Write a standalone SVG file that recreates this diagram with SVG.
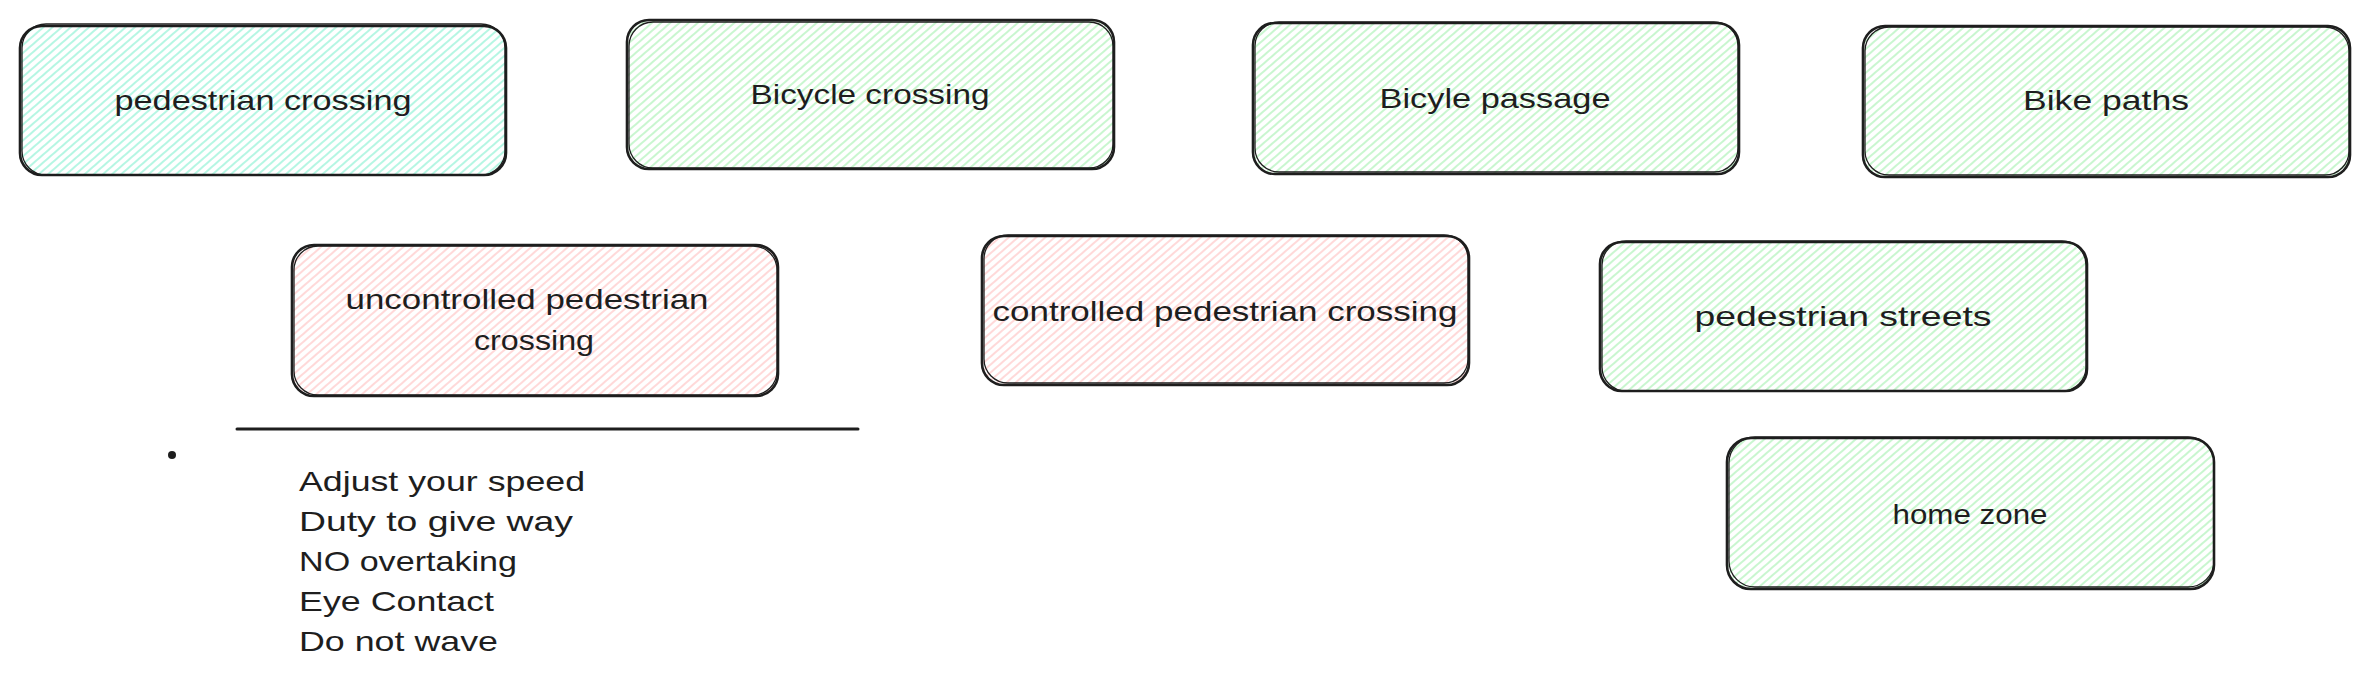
<svg xmlns="http://www.w3.org/2000/svg" width="2369" height="683" viewBox="0 0 2369 683">
<defs>
<pattern id="hTeal" patternUnits="userSpaceOnUse" width="6" height="6" patternTransform="rotate(49)"><line x1="1" y1="0" x2="1" y2="6" stroke="#96f2d7" stroke-width="1.4"/></pattern>
<pattern id="hGreen" patternUnits="userSpaceOnUse" width="6" height="6" patternTransform="rotate(49)"><line x1="1" y1="0" x2="1" y2="6" stroke="#b2f2bb" stroke-width="1.4"/></pattern>
<pattern id="hRed" patternUnits="userSpaceOnUse" width="6" height="6" patternTransform="rotate(49)"><line x1="1" y1="0" x2="1" y2="6" stroke="#ffc9c9" stroke-width="1.4"/></pattern>
</defs>
<style>
.box{stroke:#1e1e1e;stroke-width:2.6;}
.box2{fill:none;stroke:#1e1e1e;stroke-width:1.3;}
.t{font-family:"Liberation Sans","DejaVu Sans",sans-serif;font-size:28px;fill:#1e1e1e;text-anchor:middle;dominant-baseline:central;}
.l{font-family:"Liberation Sans","DejaVu Sans",sans-serif;font-size:28px;fill:#1e1e1e;dominant-baseline:central;}
</style>
<rect width="2369" height="683" fill="#ffffff"/>
<g id="pedestrian-crossing">
<rect class="box" x="20" y="26" width="486" height="149" rx="22" fill="url(#hTeal)"/>
<rect class="box2" x="22" y="24" width="483" height="151" rx="24"/>
<text class="t" x="263" y="100" textLength="297" lengthAdjust="spacingAndGlyphs">pedestrian crossing</text>
</g>
<g id="bicycle-crossing">
<rect class="box" x="627" y="20" width="487" height="149" rx="22" fill="url(#hGreen)"/>
<rect class="box2" x="629" y="22" width="484" height="146" rx="24"/>
<text class="t" x="870" y="94" textLength="239" lengthAdjust="spacingAndGlyphs">Bicycle crossing</text>
</g>
<g id="bicyle-passage">
<rect class="box" x="1253" y="23" width="486" height="151" rx="22" fill="url(#hGreen)"/>
<rect class="box2" x="1255" y="22" width="483" height="150" rx="24"/>
<text class="t" x="1495" y="98" textLength="231" lengthAdjust="spacingAndGlyphs">Bicyle passage</text>
</g>
<g id="bike-paths">
<rect class="box" x="1863" y="26" width="487" height="151" rx="22" fill="url(#hGreen)"/>
<rect class="box2" x="1865" y="27" width="484" height="148" rx="24"/>
<text class="t" x="2106" y="100" textLength="166" lengthAdjust="spacingAndGlyphs">Bike paths</text>
</g>
<g id="uncontrolled-pedestrian-crossing">
<rect class="box" x="292" y="245" width="486" height="151" rx="22" fill="url(#hRed)"/>
<rect class="box2" x="294" y="246" width="483" height="149" rx="24"/>
<text class="t" x="527" y="299" textLength="363" lengthAdjust="spacingAndGlyphs">uncontrolled pedestrian</text>
<text class="t" x="534" y="340" textLength="120" lengthAdjust="spacingAndGlyphs">crossing</text>
</g>
<g id="controlled-pedestrian-crossing">
<rect class="box" x="982" y="236" width="487" height="149" rx="22" fill="url(#hRed)"/>
<rect class="box2" x="984" y="235" width="484" height="148" rx="24"/>
<text class="t" x="1225" y="311" textLength="465" lengthAdjust="spacingAndGlyphs">controlled pedestrian crossing</text>
</g>
<g id="pedestrian-streets">
<rect class="box" x="1600" y="242" width="487" height="149" rx="22" fill="url(#hGreen)"/>
<rect class="box2" x="1602" y="241" width="484" height="150" rx="24"/>
<text class="t" x="1843" y="316" textLength="297" lengthAdjust="spacingAndGlyphs">pedestrian streets</text>
</g>
<g id="home-zone">
<rect class="box" x="1727" y="438" width="487" height="151" rx="24" fill="url(#hGreen)"/>
<rect class="box2" x="1729" y="437" width="485" height="150" rx="26"/>
<text class="t" x="1970" y="514" textLength="155" lengthAdjust="spacingAndGlyphs">home zone</text>
</g>
<g id="connectors">
<line x1="237" y1="429" x2="858" y2="429" stroke="#1e1e1e" stroke-width="3" stroke-linecap="round"/>
</g>
<g id="notes">
<circle cx="172" cy="455" r="4" fill="#1e1e1e"/>
<text class="l" x="299" y="481" textLength="286" lengthAdjust="spacingAndGlyphs">Adjust your speed</text>
<text class="l" x="299" y="521" textLength="274" lengthAdjust="spacingAndGlyphs">Duty to give way</text>
<text class="l" x="299" y="561" textLength="218" lengthAdjust="spacingAndGlyphs">NO overtaking</text>
<text class="l" x="299" y="601" textLength="195" lengthAdjust="spacingAndGlyphs">Eye Contact</text>
<text class="l" x="299" y="641" textLength="199" lengthAdjust="spacingAndGlyphs">Do not wave</text>
</g>
</svg>
